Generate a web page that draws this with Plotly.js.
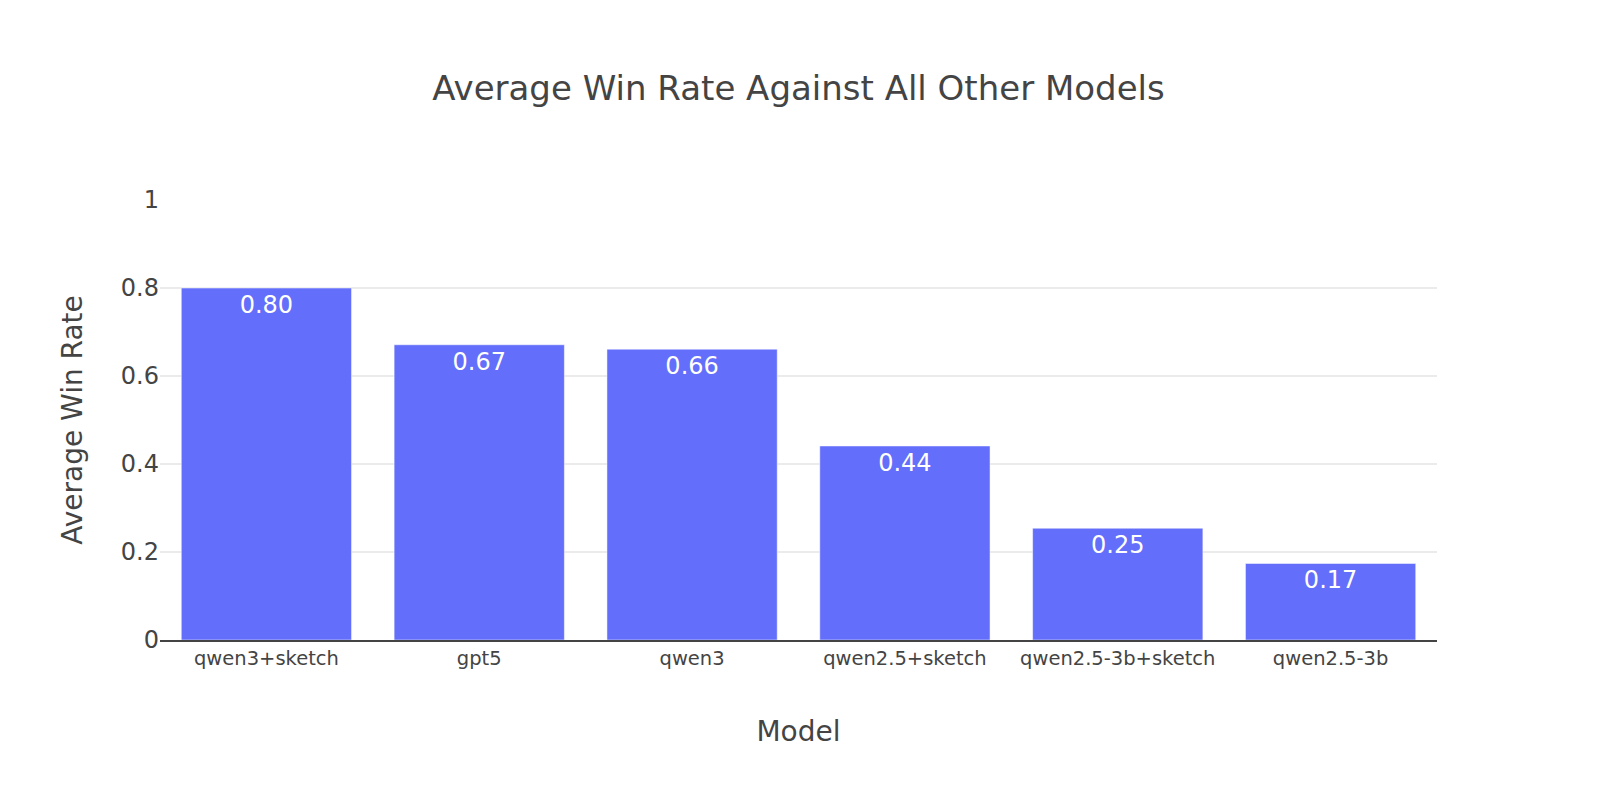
<!DOCTYPE html>
<html>
<head>
<meta charset="utf-8">
<script src="https://cdn.plot.ly/plotly-3.0.1.min.js"></script>
<style>html,body{margin:0;padding:0;background:#fff;}#chart{width:1600px;height:800px;}</style>
</head>
<body>
<div id="chart"></div>
<script>
const models = ["qwen3+sketch", "gpt5", "qwen3", "qwen2.5+sketch", "qwen2.5-3b+sketch", "qwen2.5-3b"];
const winRates = [0.800, 0.671, 0.661, 0.441, 0.254, 0.174];
const yTickVals = [0, 0.2, 0.4, 0.6, 0.8, 1];
const yTickText = ["0", "0.2", "0.4", "0.6", "0.8", "1"];

const font = "DejaVu Sans, Verdana, sans-serif";
const trace = {
  type: "bar",
  x: models,
  y: winRates,
  text: winRates.map(v => v.toFixed(2)),
  textposition: "inside",
  insidetextanchor: "end",
  textfont: {color: "#ffffff", size: 24, family: font},
  marker: {color: "#636efa", line: {color: "#ffffff", width: 0.5}},
  hoverinfo: "x+y"
};
const layout = {
  width: 1600, height: 800,
  margin: {l: 160, r: 163, t: 200, b: 160},
  paper_bgcolor: "#ffffff",
  plot_bgcolor: "#ffffff",
  font: {family: font, color: "#444", size: 22},
  title: {text: "Average Win Rate Against All Other Models", x: 0.5, xref: "paper", xanchor: "center", y: 0.89, yref: "container", yanchor: "middle", font: {size: 34, family: font, color: "#444"}},
  bargap: 0.2,
  showlegend: false,
  xaxis: {
    title: {text: "Model", font: {size: 28, family: font, color: "#444"}, standoff: 52},
    tickfont: {size: 19.5, family: font, color: "#444"},
    showline: true, linecolor: "#444", linewidth: 2,
    showgrid: false, ticks: "", automargin: false
  },
  yaxis: {
    title: {text: "Average Win Rate", font: {size: 28, family: font, color: "#444"}, standoff: 30},
    range: [0, 1],
    tickvals: yTickVals, ticktext: yTickText,
    tickfont: {size: 24, family: font, color: "#444"},
    showgrid: true, gridcolor: "#ebebeb", gridwidth: 2,
    zeroline: false, showline: false, ticks: "", automargin: false
  }
};
Plotly.newPlot("chart", [trace], layout, {displayModeBar: false, staticPlot: true});
</script>
</body>
</html>
